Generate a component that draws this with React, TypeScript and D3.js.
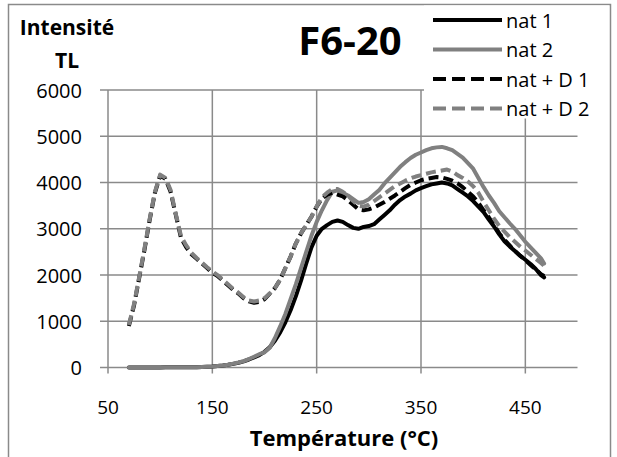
import React from "react";
import * as d3 from "d3";

const temps = [70,75,80,85,90,95,100,105,110,115,120,125,130,135,140,145,150,155,160,165,170,175,180,185,190,195,200,205,210,215,220,225,230,235,240,245,250,255,260,265,270,275,280,285,290,295,300,305,310,315,320,325,330,335,340,345,350,355,360,365,370,375,380,385,390,395,400,405,410,415,420,425,430,435,440,445,450,455,460,465,468];

const nat1 = [0,0,0,0,0,0,0,5,5,5,5,10,10,10,15,20,25,35,45,60,80,105,135,175,220,270,340,440,580,760,980,1240,1540,1880,2250,2600,2850,3000,3080,3150,3180,3150,3080,3020,3000,3040,3060,3100,3200,3300,3400,3520,3620,3700,3760,3830,3880,3920,3960,3980,4000,3980,3940,3860,3780,3700,3600,3480,3360,3200,3050,2880,2730,2620,2520,2420,2330,2240,2130,2000,1950];

const nat2 = [0,0,0,0,0,0,0,5,5,5,5,10,10,10,15,20,25,35,45,60,85,110,140,185,235,290,330,430,640,890,1160,1480,1800,2150,2500,2850,3150,3400,3620,3800,3830,3780,3720,3640,3560,3580,3640,3740,3840,3980,4100,4220,4340,4440,4530,4600,4650,4700,4740,4760,4770,4740,4700,4620,4540,4420,4300,4100,3900,3720,3560,3380,3250,3120,3000,2860,2720,2600,2480,2360,2250];

const natD1 = [900,1350,1950,2550,3200,3780,4150,4080,3800,3300,2800,2600,2450,2350,2250,2150,2050,1980,1880,1780,1680,1600,1500,1430,1400,1420,1480,1600,1720,1900,2150,2400,2680,2900,3080,3260,3480,3650,3740,3780,3740,3700,3620,3520,3420,3400,3420,3460,3520,3580,3650,3720,3800,3880,3950,4000,4050,4080,4100,4120,4110,4080,4040,3980,3900,3800,3700,3560,3400,3250,3080,2900,2760,2640,2520,2420,2320,2220,2120,2020,1980];

const natD2 = [920,1380,1970,2580,3220,3800,4170,4100,3840,3320,2840,2640,2480,2370,2270,2170,2080,2000,1900,1800,1700,1620,1520,1450,1430,1450,1500,1600,1720,1900,2150,2400,2680,2900,3080,3260,3480,3680,3780,3860,3860,3800,3720,3600,3500,3480,3520,3600,3680,3760,3840,3920,3980,4040,4090,4130,4160,4190,4220,4240,4260,4280,4240,4160,4100,4020,3920,3780,3580,3400,3220,3060,2940,2820,2720,2620,2530,2440,2350,2260,2200];

const seriesNames = ["nat 1", "nat 2", "nat + D 1", "nat + D 2"];
const seriesValues = [nat1, nat2, natD1, natD2];
const seriesColors = ["#000000", "#808080", "#000000", "#808080"];
const seriesDashed = [false, false, true, true];

const xTicks = [50, 150, 250, 350, 450];
const yTicks = [0, 1000, 2000, 3000, 4000, 5000, 6000];

const FONT = "'Open Sans', 'Noto Sans', sans-serif";
const GRID = "#8a8a8a";

export default function App() {
  const W = 617, H = 457;
  const x = d3.scaleLinear().domain([50, 500]).range([108, 577.5]);
  const y = d3.scaleLinear().domain([0, 6000]).range([367.6, 90]);
  const line = d3.line<number>()
    .x((_, i) => x(temps[i]))
    .y((v) => y(v))
    .curve(d3.curveLinear);

  const legendRows = [20, 49.5, 79, 108.5];

  return (
    <svg width={W} height={H} style={{ position: "absolute", left: 0, top: 0, background: "#fff" }}>
      <rect x={0} y={0} width={W} height={H} fill="#fff" />
      <rect x={8.5} y={4.5} width={602} height={470} fill="#fff" stroke={GRID} strokeWidth={1.5} />
      {yTicks.map((t) => (
        <line key={"gy" + t} x1={100} x2={577.5} y1={y(t)} y2={y(t)} stroke={GRID} strokeWidth={1.5} />
      ))}
      {xTicks.map((t) => (
        <line key={"gx" + t} x1={x(t)} x2={x(t)} y1={y(6000)} y2={y(0) + 6} stroke={GRID} strokeWidth={1.5} />
      ))}
      {yTicks.map((t) => (
        <text key={"ty" + t} x={82} y={y(t)} textAnchor="end" dominantBaseline="central" fontFamily={FONT} fontSize={20} fill="#000">{t}</text>
      ))}
      {xTicks.map((t) => (
        <text key={"tx" + t} x={x(t)} y={407} textAnchor="middle" dominantBaseline="central" fontFamily={FONT} fontSize={19} fill="#000">{t}</text>
      ))}
      {seriesValues.map((vals, i) => (
        <path key={"s" + i} d={line(vals) || ""} fill="none" stroke={seriesColors[i]} strokeWidth={4}
          strokeLinejoin="round" strokeLinecap={seriesDashed[i] ? "butt" : "round"}
          strokeDasharray={seriesDashed[i] ? "10,5" : undefined} />
      ))}
      <rect x={424} y={5.5} width={185} height={113} fill="#fff" />
      {seriesNames.map((n, i) => (
        <g key={"l" + i}>
          <line x1={433} x2={502} y1={legendRows[i]} y2={legendRows[i]} stroke={seriesColors[i]} strokeWidth={4}
            strokeDasharray={seriesDashed[i] ? "13,6" : undefined} />
          <text x={506} y={legendRows[i]} dominantBaseline="central" fontFamily={FONT} fontSize={20} fill="#000">{n}</text>
        </g>
      ))}
      <text x={350} y={55} textAnchor="middle" fontFamily={FONT} fontWeight="bold" fontSize={40} fill="#000">F6-20</text>
      <text x={67} y={35} textAnchor="middle" fontFamily={FONT} fontWeight="bold" fontSize={21} fill="#000">Intensité</text>
      <text x={67} y={68} textAnchor="middle" fontFamily={FONT} fontWeight="bold" fontSize={21} fill="#000">TL</text>
      <text x={344} y={446} textAnchor="middle" fontFamily={FONT} fontWeight="bold" fontSize={22} fill="#000">Température (°C)</text>
    </svg>
  );
}
